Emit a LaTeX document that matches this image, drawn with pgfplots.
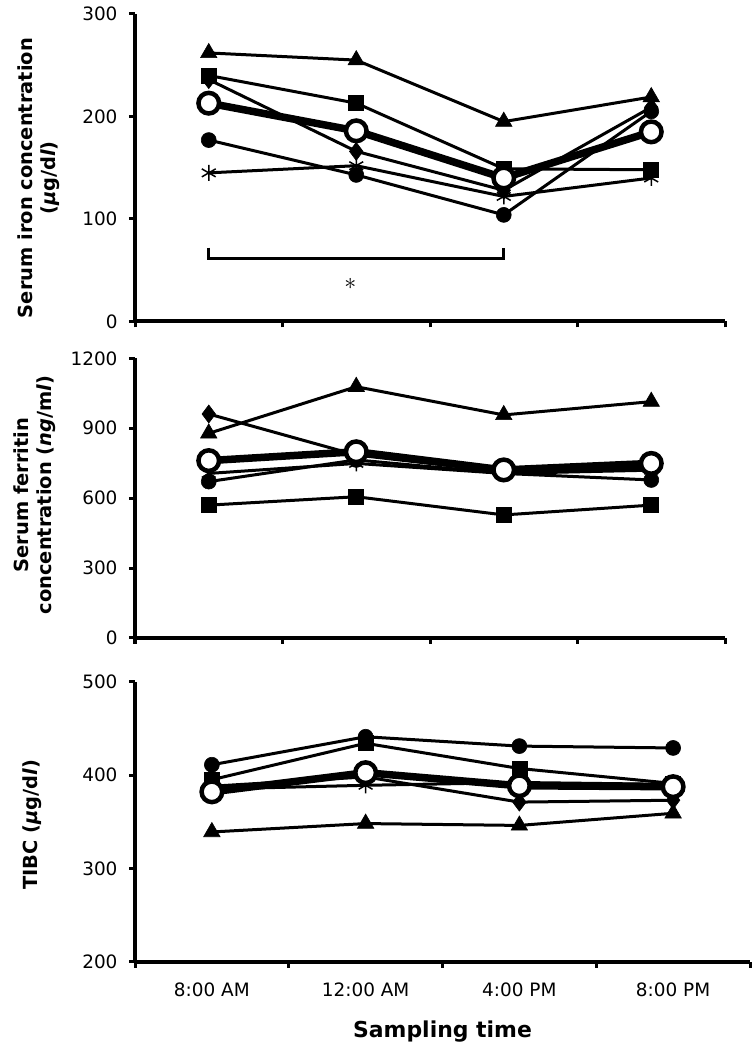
\documentclass[border=0pt]{standalone}
\usepackage{fontspec}
\setmainfont{DejaVu Sans}
\usepackage{pgfplots}
\pgfplotsset{compat=1.18}
\pgfplotsset{
  panel/.style={
    scale only axis,
    anchor=south west,
    xmin=0.5, xmax=4.5,
    axis x line*=bottom, axis y line*=left,
    axis line style={line width=4bp, -},
    xtick={0.5,1.5,2.5,3.5,4.5},
    xticklabels={},
    tick align=outside,
    major tick length=6bp,
    major tick style={line width=3bp, black},
    tick label style={font=\fontsize{18.5}{20}\selectfont},
    yticklabel style={xshift=-8bp},
    xticklabel style={yshift=-12bp},
    /pgf/number format/assume math mode=true,
    /pgf/number format/1000 sep={},
    clip=false,
  },
  tri/.style={line width=3bp, black, mark=triangle*, mark size=9.5bp, mark options={solid, line width=0.6bp}},
  sq/.style={line width=3bp, black, mark=square*, mark size=7.5bp, mark options={solid, line width=0.6bp}},
  dia/.style={line width=3bp, black, mark=diamond*, mark size=9bp, mark options={solid, line width=0.6bp}},
  dot/.style={line width=3bp, black, mark=*, mark size=7.5bp, mark options={solid, line width=0.6bp}},
  ast/.style={line width=3bp, black, mark=asterisk, mark size=8bp, mark options={solid, line width=1.5bp}},
  mean/.style={line width=7.5bp, black, mark=*, mark size=10.3bp, mark options={solid, fill=white, draw=black, line width=4.5bp}},
}
\begin{document}
\begin{tikzpicture}
\useasboundingbox (0,0) rectangle (756bp,1048bp);
% ---------- Panel 1: serum iron ----------
\begin{axis}[panel, at={(135bp,726.5bp)}, width=590bp, height=307.5bp,
  ymin=0, ymax=300, ytick={0,100,200,300}]
\addplot[tri] coordinates {(1,262) (2,255) (3,195) (4,219)};
\addplot[sq]  coordinates {(1,240) (2,213) (3,149) (4,148)};
\addplot[dia] coordinates {(1,236) (2,166) (3,128) (4,209)};
\addplot[dot] coordinates {(1,177) (2,143) (3,104) (4,205)};
\addplot[ast] coordinates {(1,145) (2,152) (3,122) (4,140)};
\addplot[mean] coordinates {(1,213) (2,186) (3,140) (4,185)};
\draw[line width=2.8bp] (axis cs:1,72) -- (axis cs:1,61.5) -- (axis cs:3,61.5) -- (axis cs:3,72);
\node[inner sep=0pt] at (axis cs:1.96,37) {\scalebox{2.4}{$\ast$}};
\end{axis}
% ---------- Panel 2: ferritin ----------
\begin{axis}[panel, at={(135bp,410bp)}, width=590bp, height=279.7bp,
  ymin=0, ymax=1200, ytick={0,300,600,900,1200}]
\addplot[tri] coordinates {(1,878) (2,1078) (3,957) (4,1014)};
\addplot[sq]  coordinates {(1,570) (2,606) (3,528) (4,570)};
\addplot[dia] coordinates {(1,961) (2,785) (3,713) (4,728)};
\addplot[dot] coordinates {(1,671) (2,764) (3,706) (4,678)};
\addplot[ast] coordinates {(1,706) (2,749) (3,706) (4,720)};
\addplot[mean] coordinates {(1,761) (2,799) (3,721) (4,749)};
\end{axis}
% ---------- Panel 3: TIBC ----------
\begin{axis}[panel, at={(135bp,86.3bp)}, width=615bp, height=280bp,
  ymin=200, ymax=500, ytick={200,300,400,500},
  xticklabels={8:00 AM,12:00 AM,4:00 PM,8:00 PM},
  x tick label as interval]
\addplot[tri] coordinates {(1,339) (2,348) (3,346) (4,359)};
\addplot[sq]  coordinates {(1,395) (2,434) (3,407) (4,391)};
\addplot[dia] coordinates {(1,388) (2,398) (3,371) (4,373)};
\addplot[dot] coordinates {(1,411) (2,441) (3,431) (4,429)};
\addplot[ast] coordinates {(1,385) (2,389) (3,392) (4,390)};
\addplot[mean] coordinates {(1,382) (2,402.5) (3,388.5) (4,387.5)};
\end{axis}
% ---------- axis titles ----------
\node[rotate=90, align=center, inner sep=0pt, font=\bfseries\fontsize{19.5}{23}\selectfont] at (39bp,870bp)
  {Serum iron concentration\\({\itshape μ}g/d{\itshape l})};
\node[rotate=90, align=center, inner sep=0pt, font=\bfseries\fontsize{19.5}{23}\selectfont] at (35bp,553bp)
  {Serum ferritin\\concentration ({\itshape ng}/m{\itshape l})};
\node[rotate=90, align=center, inner sep=0pt, font=\bfseries\fontsize{19.5}{23}\selectfont] at (32bp,223bp)
  {TIBC ({\itshape μ}g/d{\itshape l})};
\node[anchor=base, font=\bfseries\fontsize{22}{24}\selectfont] at (442.5bp,11bp) {Sampling time};
\end{tikzpicture}
\end{document}
